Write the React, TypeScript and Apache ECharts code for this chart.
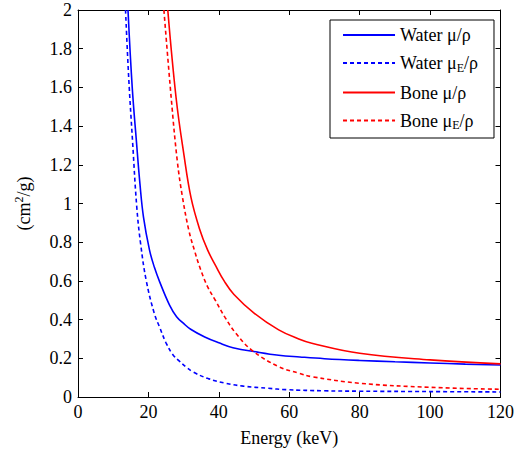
import React, { useEffect, useRef } from "react";
import * as echarts from "echarts";

// Energy (keV) / value (cm^2/g) pairs
const waterMuE = [14.2, 15.4, 16.6, 17.6, 18.6, 20.3, 21.7, 23.2, 26.0, 28.0, 30.0, 32.0, 36.0, 40.0, 44.0, 51.0, 57.0, 63.0, 70.0, 80.0, 90.0, 100.0, 110.0, 120.0];
const waterMuV = [2.0, 1.6, 1.32, 1.1, 0.93, 0.76, 0.67, 0.595, 0.475, 0.415, 0.38, 0.35, 0.31, 0.28, 0.255, 0.232, 0.216, 0.207, 0.198, 0.189, 0.182, 0.176, 0.17, 0.165];

const waterMuEnE = [13.5, 14.4, 15.5, 16.7, 17.8, 19.4, 21.7, 23.2, 25.0, 26.9, 28.8, 30.7, 32.6, 37.0, 42.0, 47.0, 54.0, 59.0, 70.0, 80.0, 100.0, 120.0];
const waterMuEnV = [2.0, 1.65, 1.32, 0.98, 0.79, 0.6, 0.43, 0.36, 0.28, 0.22, 0.185, 0.155, 0.13, 0.095, 0.071, 0.056, 0.045, 0.038, 0.032, 0.03, 0.028, 0.026];

const boneMuE = [25.5, 27.9, 30.1, 32.1, 34.5, 36.8, 39.2, 41.5, 44.3, 50.0, 57.0, 62.7, 66.4, 80.0, 100.0, 120.0];
const boneMuV = [2.0, 1.54, 1.25, 1.03, 0.87, 0.76, 0.675, 0.6, 0.53, 0.434, 0.347, 0.3, 0.278, 0.226, 0.192, 0.171];

const boneMuEnE = [24.4, 26.5, 28.2, 29.7, 31.5, 33.2, 34.8, 36.8, 39.0, 41.8, 44.8, 49.5, 57.0, 62.7, 66.4, 80.0, 100.0, 120.0];
const boneMuEnV = [2.0, 1.54, 1.22, 1.03, 0.86, 0.75, 0.66, 0.57, 0.5, 0.41, 0.33, 0.24, 0.157, 0.123, 0.105, 0.071, 0.05, 0.04];

const seriesNames = ["Water μ/ρ", "Water μE/ρ", "Bone μ/ρ", "Bone μE/ρ"];
const xTicks = [0, 20, 40, 60, 80, 100, 120];
const yTicks = [0, 0.2, 0.4, 0.6, 0.8, 1, 1.2, 1.4, 1.6, 1.8, 2];

const FONT = "Liberation Serif";
const FS = 18;

function pairs(xs: number[], ys: number[]) {
  return xs.map((x, i) => [x, ys[i]]);
}

export default function App() {
  const ref = useRef<HTMLDivElement>(null);
  useEffect(() => {
    if (!ref.current) return;
    const chart = echarts.init(ref.current, undefined, { renderer: "svg" });
    const lineSeries = (name: string, data: number[][], color: string, dashed: boolean) => ({
      name,
      type: "line",
      data,
      showSymbol: false,
      symbol: "none",
      smooth: 0.4,
      clip: true,
      lineStyle: { color, width: 1.6, type: dashed ? [4, 3] : "solid" },
      itemStyle: { color },
    });
    const axisCommon = {
      axisLine: { show: true, onZero: false, lineStyle: { color: "#000", width: 1 } },
      axisTick: { show: true, inside: true, length: 5, lineStyle: { color: "#000" } },
      splitLine: { show: false },
    };
    chart.setOption({
      animation: false,
      backgroundColor: "#fff",
      textStyle: { fontFamily: FONT, fontSize: FS },
      grid: { left: 78, right: 14, top: 10, bottom: 56, containLabel: false },
      legend: {
        orient: "vertical",
        right: 23,
        top: 20,
        padding: [6, 16, 7, 12],
        itemWidth: 52,
        itemHeight: 14,
        itemGap: 10,
        borderColor: "#000",
        borderWidth: 1,
        borderRadius: 0,
        backgroundColor: "#fff",
        itemStyle: { opacity: 0 },
        data: seriesNames,
        formatter: (name: string) => name.replace("μE", "μ{sub|E}"),
        textStyle: {
          fontFamily: FONT,
          fontSize: FS,
          color: "#000",
          rich: {
            sub: { fontFamily: FONT, fontSize: 12, color: "#000", padding: [9, 0, 0, 0] },
          },
        },
      },
      xAxis: [
        {
          type: "value",
          min: 0,
          max: 120,
          interval: 20,
          position: "bottom",
          name: "Energy (keV)",
          nameLocation: "middle",
          nameGap: 32,
          nameTextStyle: { fontFamily: FONT, fontSize: FS, color: "#000" },
          axisLabel: {
            fontFamily: FONT,
            fontSize: FS,
            color: "#000",
            margin: 6,
            formatter: (v: number) => {
              const t = xTicks.find((k) => Math.abs(k - v) < 1e-6);
              return t === undefined ? "" : String(t);
            },
          },
          ...axisCommon,
        },
        {
          type: "value",
          min: 0,
          max: 120,
          interval: 20,
          position: "top",
          axisLabel: { show: false },
          ...axisCommon,
        },
      ],
      yAxis: [
        {
          type: "value",
          min: 0,
          max: 2,
          interval: 0.2,
          position: "left",
          name: "(cm{sup|2}/g)",
          nameLocation: "middle",
          nameGap: 44,
          nameTextStyle: {
            fontFamily: FONT,
            fontSize: FS,
            color: "#000",
            rich: { sup: { fontFamily: FONT, fontSize: 12, color: "#000", padding: [0, 0, 9, 0] } },
          },
          axisLabel: {
            fontFamily: FONT,
            fontSize: FS,
            color: "#000",
            margin: 6,
            formatter: (v: number) => {
              const t = yTicks.find((k) => Math.abs(k - v) < 1e-6);
              return t === undefined ? "" : String(t);
            },
          },
          ...axisCommon,
        },
        {
          type: "value",
          min: 0,
          max: 2,
          interval: 0.2,
          position: "right",
          axisLabel: { show: false },
          ...axisCommon,
        },
      ],
      series: [
        lineSeries(seriesNames[0], pairs(waterMuE, waterMuV), "#0000ff", false),
        lineSeries(seriesNames[1], pairs(waterMuEnE, waterMuEnV), "#0000ff", true),
        lineSeries(seriesNames[2], pairs(boneMuE, boneMuV), "#ff0000", false),
        lineSeries(seriesNames[3], pairs(boneMuEnE, boneMuEnV), "#ff0000", true),
      ],
    });
    return () => chart.dispose();
  }, []);
  return <div ref={ref} style={{ width: 517, height: 453, position: "absolute", left: 0, top: 0 }} />;
}
